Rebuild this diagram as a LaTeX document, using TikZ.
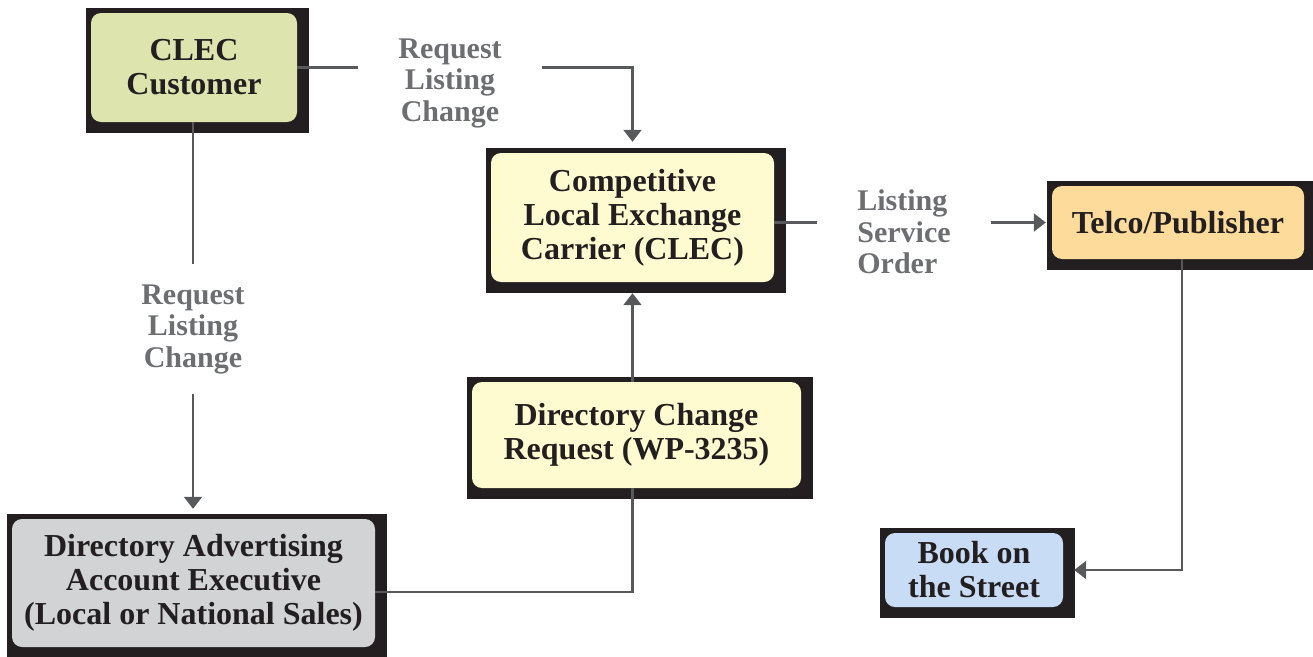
\documentclass[tikz,border=0pt]{standalone}
\usepackage{fontspec}
\setmainfont{Liberation Serif}
\usetikzlibrary{arrows.meta, backgrounds}

\definecolor{ink}{HTML}{231F20}
\definecolor{wire}{HTML}{58595B}
\definecolor{tagtext}{HTML}{6D6E71}
\definecolor{custfill}{HTML}{DDE4AE}
\definecolor{clecfill}{HTML}{FFFBD0}
\definecolor{telcofill}{HTML}{FCDB9B}
\definecolor{salesfill}{HTML}{D1D3D4}
\definecolor{bookfill}{HTML}{C9DCF6}

\begin{document}
\begin{tikzpicture}[
      x=1pt, y=-1pt,
      box/.style={rectangle, rounded corners=10pt, fill=#1, text=ink, align=center, inner sep=2pt, font=\fontsize{32}{34}\selectfont\bfseries},
      tag/.style={text=tagtext, align=center, inner xsep=40pt, inner ysep=20pt, font=\fontsize{30}{31.5}\selectfont\bfseries},
      link/.style={wire, line width=2.2pt},
      arrow/.style={link, -{Triangle[width=18pt,length=12pt]}}
    ]
      \useasboundingbox (0,0) rectangle (1313,656);

      \node (cust) [box=custfill, minimum width=206pt, minimum height=109pt] at (194,67.5) {CLEC\\Customer};
      \node (clec) [box=clecfill, minimum width=283pt, minimum height=129pt] at (632.5,217.5) {Competitive\\Local Exchange\\Carrier (CLEC)};
      \node (telco) [box=telcofill, minimum width=252pt, minimum height=73pt] at (1178,222.5) {Telco/Publisher};
      \node (dcr) [box=clecfill, minimum width=329pt, minimum height=106pt] at (636.5,435) {Directory Change\\Request (WP-3235)};
      \node (daae) [box=salesfill, minimum width=363pt, minimum height=128pt] at (193.5,583) {Directory Advertising\\Account Executive\\(Local or National Sales)};
      \node (book) [box=bookfill, minimum width=178pt, minimum height=74pt] at (974,570) {Book on\\the Street};

      % black frames behind the boxes
      \begin{scope}[on background layer]
        \foreach \n in {cust,clec,telco,dcr,daae,book}
          \fill[ink] ([shift={(-5pt,5pt)}]\n.north west) rectangle ([shift={(12pt,-11pt)}]\n.south east);
      \end{scope}

      \node (rq1) [tag] at (450,83) {Request\\Listing\\Change};
      \node (rq2) [tag] at (193,329) {Request\\Listing\\Change};
      \node (lso) [tag, align=left] at (904,232) {Listing\\Service\\Order};

      \draw [link] (cust.east) -- (rq1.west |- cust.east);
      \draw [arrow, shorten >=11pt] (rq1.east |- cust.east) -| (clec.north);
      \draw [link] (rq2.north |- cust.south) -- (rq2.north);
      \draw [arrow, shorten >=10pt] (rq2.south) -- (rq2.south |- daae.north);
      \draw [link] ([yshift=-9pt]daae.east) -| (clec.south |- dcr.south);
      \draw [arrow, shorten >=11pt] (clec.south |- dcr.north) -- (clec.south);
      \draw [link] (clec.east |- telco.west) -- (lso.west |- telco.west);
      \draw [arrow, shorten >=6pt] (lso.east |- telco.west) -- (telco.west);
      \draw [arrow, shorten >=11pt] ([xshift=4pt]telco.south) |- (book.east);
    \end{tikzpicture}
\end{document}
